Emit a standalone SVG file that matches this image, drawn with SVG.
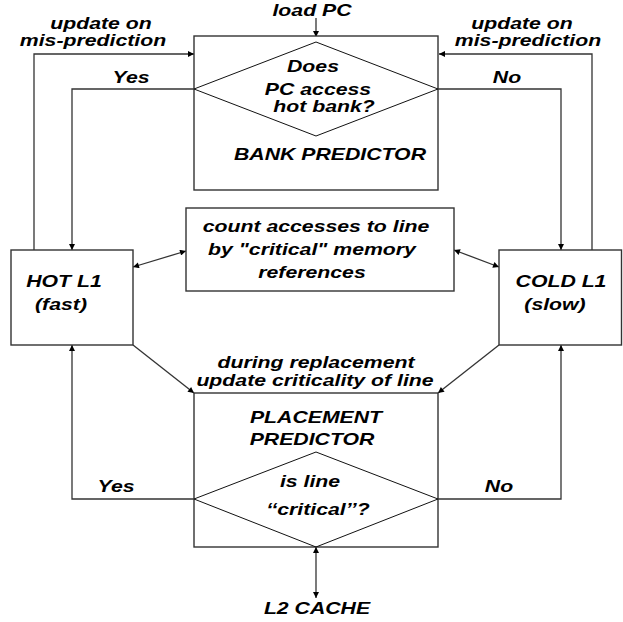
<svg xmlns="http://www.w3.org/2000/svg" width="623" height="622" viewBox="0 0 623 622">
  <style>
    .box { fill: #fff; stroke: #333; stroke-width: 1.4; }
    .dia { fill: none; stroke: #111; stroke-width: 1; }
    .wire { fill: none; stroke: #333; stroke-width: 1.3; }
    .lbl { font-family: "Liberation Sans", Arial, sans-serif; font-weight: bold; font-style: italic; font-size: 17px; fill: #000; text-anchor: middle; }
  </style>
  <defs>
    <marker id="arrow" viewBox="0 0 10 10" refX="10" refY="5" markerWidth="9" markerHeight="6" markerUnits="userSpaceOnUse" orient="auto">
      <path d="M0,0 L10,5 L0,10 Z" fill="#000"/>
    </marker>
    <marker id="arrow-start" viewBox="0 0 10 10" refX="0" refY="5" markerWidth="9" markerHeight="6" markerUnits="userSpaceOnUse" orient="auto">
      <path d="M10,0 L0,5 L10,10 Z" fill="#000"/>
    </marker>
  </defs>
  <rect width="623" height="622" fill="#fff"/>

  <!-- connectors -->
  <g id="connectors">
    <line class="wire" x1="316" y1="18" x2="316" y2="37" marker-end="url(#arrow)"/>
    <polyline class="wire" points="34,250 34,54 194,54" marker-end="url(#arrow)"/>
    <polyline class="wire" points="592,250 592,54 439,54" marker-end="url(#arrow)"/>
    <polyline class="wire" points="194,89 72,89 72,250" marker-end="url(#arrow)"/>
    <polyline class="wire" points="438,89 561,89 561,250" marker-end="url(#arrow)"/>
    <line class="wire" x1="133" y1="267" x2="186" y2="251" marker-start="url(#arrow-start)" marker-end="url(#arrow)"/>
    <line class="wire" x1="454" y1="250" x2="499" y2="267" marker-start="url(#arrow-start)" marker-end="url(#arrow)"/>
    <line class="wire" x1="133" y1="345" x2="194" y2="393" marker-end="url(#arrow)"/>
    <line class="wire" x1="499" y1="345" x2="438" y2="393" marker-end="url(#arrow)"/>
    <polyline class="wire" points="194,499 72,499 72,345" marker-end="url(#arrow)"/>
    <polyline class="wire" points="438,499 561,499 561,345" marker-end="url(#arrow)"/>
    <line class="wire" x1="316" y1="547" x2="316" y2="598" marker-start="url(#arrow-start)" marker-end="url(#arrow)"/>
  </g>

  <!-- connector labels -->
  <g id="connector-labels">
    <text class="lbl" transform="translate(312,16) scale(1.25,1)">load PC</text>
    <text class="lbl" transform="translate(101,29) scale(1.25,1)">update on</text>
    <text class="lbl" transform="translate(93,46) scale(1.25,1)">mis-prediction</text>
    <text class="lbl" transform="translate(522,29) scale(1.25,1)">update on</text>
    <text class="lbl" transform="translate(528,46) scale(1.25,1)">mis-prediction</text>
    <text class="lbl" transform="translate(131,83) scale(1.25,1)">Yes</text>
    <text class="lbl" transform="translate(507,83) scale(1.25,1)">No</text>
    <text class="lbl" transform="translate(316,368) scale(1.25,1)">during replacement</text>
    <text class="lbl" transform="translate(315,386) scale(1.25,1)">update criticality of line</text>
    <text class="lbl" transform="translate(116,492) scale(1.25,1)">Yes</text>
    <text class="lbl" transform="translate(499,492) scale(1.25,1)">No</text>
    <text class="lbl" transform="translate(317,614) scale(1.25,1)">L2 CACHE</text>
  </g>

  <!-- bank predictor -->
  <g id="bank-predictor">
    <rect class="box" x="194" y="36" width="244" height="154"/>
    <polygon class="dia" points="316,42 438,89 316,136 194,89"/>
    <text class="lbl" transform="translate(313,72) scale(1.25,1)">Does</text>
    <text class="lbl" transform="translate(318,95) scale(1.25,1)">PC access</text>
    <text class="lbl" transform="translate(324,112) scale(1.25,1)">hot bank?</text>
    <text class="lbl" transform="translate(330,160) scale(1.25,1)">BANK PREDICTOR</text>
  </g>

  <!-- hot L1 -->
  <g id="hot-l1">
    <rect class="box" x="11" y="250" width="122" height="95"/>
    <text class="lbl" transform="translate(64,287) scale(1.25,1)">HOT L1</text>
    <text class="lbl" transform="translate(61,310) scale(1.25,1)">(fast)</text>
  </g>

  <!-- cold L1 -->
  <g id="cold-l1">
    <rect class="box" x="499" y="250" width="122.5" height="95"/>
    <text class="lbl" transform="translate(561,287) scale(1.25,1)">COLD L1</text>
    <text class="lbl" transform="translate(555,310) scale(1.25,1)">(slow)</text>
  </g>

  <!-- access counter -->
  <g id="access-counter">
    <rect class="box" x="186" y="208" width="268" height="83"/>
    <text class="lbl" transform="translate(316,232) scale(1.25,1)">count accesses to line</text>
    <text class="lbl" transform="translate(312,255) scale(1.25,1)">by "critical" memory</text>
    <text class="lbl" transform="translate(312,278) scale(1.25,1)">references</text>
  </g>

  <!-- placement predictor -->
  <g id="placement-predictor">
    <rect class="box" x="194" y="393" width="244" height="154"/>
    <polygon class="dia" points="316,452 438,499 316,547 194,499"/>
    <text class="lbl" transform="translate(316,423) scale(1.25,1)">PLACEMENT</text>
    <text class="lbl" transform="translate(312,445) scale(1.25,1)">PREDICTOR</text>
    <text class="lbl" transform="translate(310,487) scale(1.25,1)">is line</text>
    <text class="lbl" transform="translate(318,515) scale(1.25,1)">‘‘critical’’?</text>
  </g>
</svg>
